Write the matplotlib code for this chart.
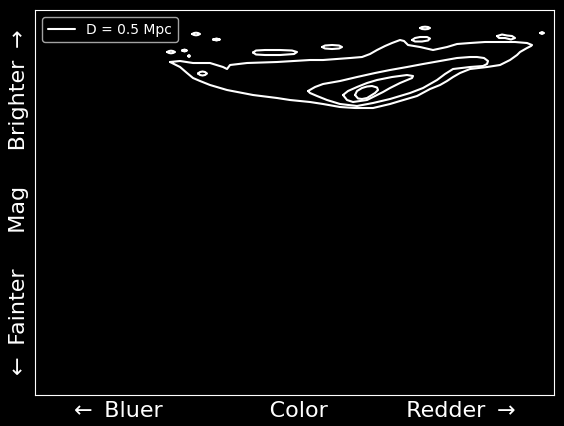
"""
Colour-magnitude contours, D = 0.5 Mpc
"""
import matplotlib
matplotlib.use('Agg')
import matplotlib.pyplot as plt

plt.style.use('dark_background')

# contour levels (colour, magnitude in plot units)
outer_color = [170, 180, 193, 210, 223, 227, 230, 247, 277, 310, 323, 350, 362, 370, 377, 385,
               392, 400, 404, 408, 420, 433, 447, 457, 470, 485, 503, 515, 527, 532, 531, 527,
               520, 517, 510, 500, 487, 470, 460, 453, 447, 440, 430, 417, 400, 390, 373, 355,
               340, 323, 310, 290, 277, 253, 227, 210, 200, 193, 187, 180, 170]
outer_mag = [62, 61, 63, 63, 67, 69, 65, 63, 62, 60, 60, 58, 57, 54, 50, 46,
             43, 40, 41, 45, 47, 50, 47, 44, 43, 42, 42, 42, 43, 45, 46, 48,
             52, 55, 60, 65, 67, 69, 73, 77, 81, 85, 89, 96, 101, 104, 108, 108,
             107, 104, 102, 100, 98, 95, 90, 85, 81, 78, 73, 67, 62]

mid_color = [308, 315, 323, 340, 357, 375, 390, 407, 423, 440, 457, 470, 477, 484, 488, 487,
             483, 470, 453, 445, 437, 423, 410, 390, 373, 357, 340, 327, 317, 310, 308]
mid_mag = [91, 87, 84, 81, 77, 73, 70, 67, 64, 61, 58, 57, 57, 58, 61, 64,
           66, 67, 69, 74, 80, 88, 93, 99, 103, 106, 104, 100, 96, 93, 91]

inner_color = [343, 348, 357, 367, 377, 392, 407, 413, 412, 400, 390, 383, 375, 367, 360, 353,
               347, 343]
inner_mag = [95, 91, 87, 83, 80, 77, 75, 76, 78, 83, 88, 92, 96, 100, 101, 102,
             100, 95]

core_color = [355, 357, 362, 367, 372, 377, 378, 375, 371, 367, 362, 358, 355]
core_mag = [95, 91, 88, 86.5, 86, 87.5, 90, 93, 95.5, 98, 99, 98.5, 95]

# small isolated loops
islands = [
    ([253, 256, 265, 280, 292, 297, 294, 280, 265, 256, 253], [52.5, 50.5, 50, 50, 50.5, 52, 54, 55, 55, 54.5, 52.5]),
    ([322, 325, 332, 339, 342, 339, 332, 325, 322], [47, 45.5, 45, 45.5, 47, 48.5, 49, 48.5, 47]),
    ([192, 194, 196, 198, 200, 198, 196, 194, 192], [34, 33, 32.7, 33, 34, 35, 35.3, 35, 34]),
    ([213, 216.5, 220, 216.5, 213], [39.5, 38.5, 39.5, 40.5, 39.5]),
    ([167, 169, 171, 173, 175, 173, 171, 169, 167], [52, 51, 50.7, 51, 52, 53, 53.3, 53, 52]),
    ([182, 184.5, 187, 184.5, 182], [50.5, 49.5, 50.5, 51.5, 50.5]),
    ([188, 189, 190, 189, 188], [56, 55, 56, 57, 56]),
    ([198, 200, 202.5, 205, 207, 205, 202.5, 200, 198], [73.5, 72, 71.5, 72, 73.5, 75, 75.5, 75, 73.5]),
    ([420, 422, 425, 428, 430, 428, 425, 422, 420], [28, 27, 26.7, 27, 28, 29, 29.3, 29, 28]),
    ([412, 415, 420, 427, 430, 428, 422, 415, 412], [40, 38, 37, 37, 38.5, 40.5, 41.5, 41.5, 40]),
    ([497, 502, 507, 512, 515, 511, 505, 499, 497], [36, 34.5, 35.5, 36, 38, 39.5, 38, 38, 36]),
    ([540, 542, 544, 542, 540], [33, 32, 33, 34, 33]),
]

fig = plt.figure(figsize=(5.64, 4.26), dpi=100, facecolor='black')
ax = fig.add_axes([0.0621, 0.0728, 0.9202, 0.9037])
ax.set_facecolor('black')

lw = 1.5
style = dict(color='white', lw=lw, solid_joinstyle='round', solid_capstyle='round')
ax.plot(outer_color, outer_mag, label='D = 0.5 Mpc', **style)
ax.plot(mid_color, mid_mag, **style)
ax.plot(inner_color, inner_mag, **style)
ax.plot(core_color, core_mag, **style)
for xs, ys in islands:
    ax.plot(xs, ys, **style)

ax.set_xlim(35, 554)
ax.set_ylim(395, 10)
ax.set_xticks([])
ax.set_yticks([])

ax.set_xlabel('\u2190 \u2009Bluer' + ' ' * 15 + 'Color' + ' ' * 11 + 'Redder \u2009\u2192', fontsize=16)
ax.set_ylabel('\u2190 \u2009Fainter' + ' ' * 5 + 'Mag' + ' ' * 5 + 'Brighter \u2009\u2192', fontsize=16)

ax.legend(loc='upper left', fontsize=10)

plt.savefig('out.png', dpi=100, facecolor='black')
